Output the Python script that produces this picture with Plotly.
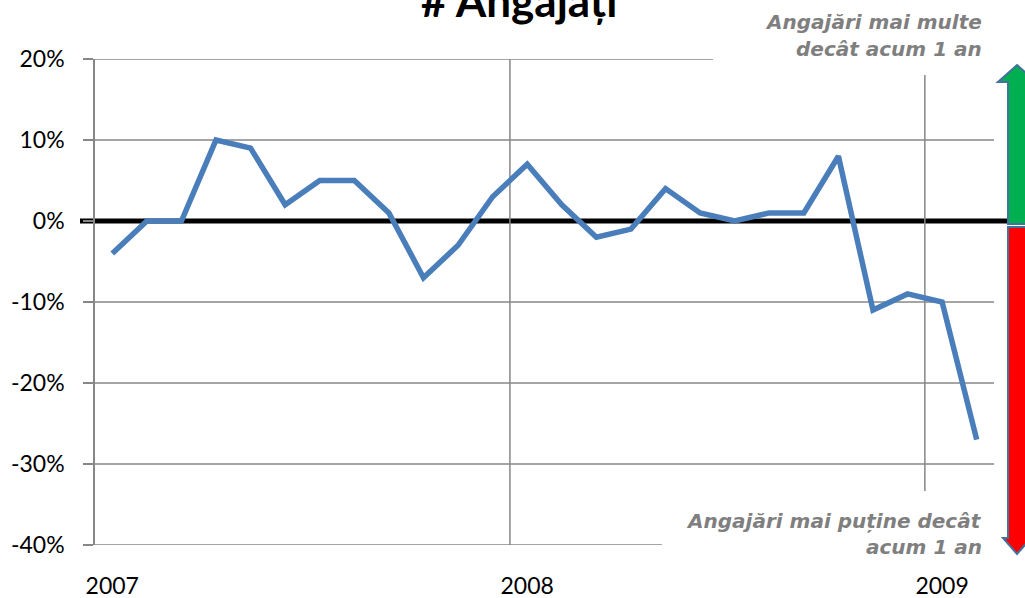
import plotly.graph_objects as go

# ---- data ----
months = list(range(26))
values = [-4, 0, 0, 10, 9, 2, 5, 5, 1, -7, -3, 3, 7, 2, -2, -1, 4, 1, 0, 1, 1, 8, -11, -9, -10, -27]
year_ticks = [0, 12, 24]
year_labels = ["2007", "2008", "2009"]
y_ticks = [-40, -30, -20, -10, 0, 10, 20]
y_labels = ["-40%", "-30%", "-20%", "-10%", "0%", "10%", "20%"]
title_text = "# Angajați"
note_up = ["Angajări mai multe", "decât acum 1 an"]
note_down = ["Angajări mai puține decât", "acum 1 an"]

W, H = 1025, 598
L, R, T, B = 95, 994, 59, 545


def px(x):
    return (x - L) / (R - L)


def py(y):
    return (B - y) / (B - T)


GRID = "#878787"
fig = go.Figure()
fig.add_trace(go.Scatter(x=months, y=values, mode="lines",
                         line=dict(color="#4a7ebb", width=5.5), showlegend=False,
                         hoverinfo="skip"))

shapes = []
# horizontal gridlines (zero handled by the black baseline)
for yv in y_ticks:
    if yv != 0:
        shapes.append(dict(type="line", xref="paper", yref="y", x0=0, x1=1, y0=yv, y1=yv,
                           line=dict(color=GRID, width=1.5), layer="between"))
# vertical gridlines between category groups
for xv in [11.5, 23.5]:
    shapes.append(dict(type="line", xref="x", yref="y", x0=xv, x1=xv, y0=-40, y1=20,
                       line=dict(color=GRID, width=1.5), layer="between"))
# zero line
shapes.append(dict(type="line", xref="paper", yref="y", x0=px(80), x1=px(1010), y0=0, y1=0,
                   line=dict(color="black", width=5), layer="between"))
# white boxes behind notes
shapes.append(dict(type="rect", xref="paper", yref="paper", x0=px(713), x1=px(996),
                   y0=py(75), y1=py(-5), fillcolor="white", line=dict(width=0), layer="above"))
shapes.append(dict(type="rect", xref="paper", yref="paper", x0=px(662), x1=px(996),
                   y0=py(565), y1=py(491), fillcolor="white", line=dict(width=0), layer="above"))


def path(pts):
    return "M " + " L ".join(f"{px(a):.5f},{py(b):.5f}" for a, b in pts) + " Z"


cx = 1017
up = [(cx, 65), (cx + 19, 82), (cx + 9, 82), (cx + 9, 224), (cx - 9, 224), (cx - 9, 82), (cx - 19, 82)]
down = [(cx - 9, 227), (cx + 9, 227), (cx + 9, 538), (cx + 14, 538), (cx, 554), (cx - 14, 538), (cx - 9, 538)]
shapes.append(dict(type="path", xref="paper", yref="paper", path=path(up),
                   fillcolor="#00b050", line=dict(color="#41719c", width=2), layer="above"))
shapes.append(dict(type="path", xref="paper", yref="paper", path=path(down),
                   fillcolor="#ff0000", line=dict(color="#41719c", width=2), layer="above"))

annotations = []
NOTE_FONT = dict(family="DejaVu Sans", size=20, color="#7f7f7f", weight="bold", style="italic")
for txt, base in zip(note_up, [28, 55]):
    annotations.append(dict(text=txt, xref="paper", yref="paper", x=px(984), y=py(base - 6),
                            xanchor="right", yanchor="middle", showarrow=False, font=NOTE_FONT))
for txt, base in zip(note_down, [527, 553]):
    annotations.append(dict(text=txt, xref="paper", yref="paper", x=px(984), y=py(base - 6),
                            xanchor="right", yanchor="middle", showarrow=False, font=NOTE_FONT))
annotations.append(dict(text=f"<b>{title_text}</b>", xref="paper", yref="paper", x=px(519), y=py(0),
                        xanchor="center", yanchor="middle", showarrow=False,
                        font=dict(family="Lato", size=44, color="black")))

fig.update_layout(
    width=W, height=H,
    margin=dict(l=L, r=W - R, t=T, b=H - B, autoexpand=False),
    paper_bgcolor="white", plot_bgcolor="white",
    font=dict(family="Lato", size=23, color="black"),
    shapes=shapes, annotations=annotations,
    xaxis=dict(range=[-0.5, 25.5], tickvals=year_ticks, ticktext=year_labels,
               showgrid=False, zeroline=False, showline=False, ticks="",
               ticklabelstandoff=25, automargin=False),
    yaxis=dict(range=[-40, 20], tickvals=y_ticks, ticktext=y_labels,
               showgrid=False, zeroline=False,
               showline=True, linecolor=GRID, linewidth=1.5,
               ticks="outside", ticklen=10, tickcolor=GRID, tickwidth=1.5,
               ticklabelstandoff=14, automargin=False),
)

fig.write_html("out.html", config={"displayModeBar": False},
               post_script="document.body.style.margin='0';")
